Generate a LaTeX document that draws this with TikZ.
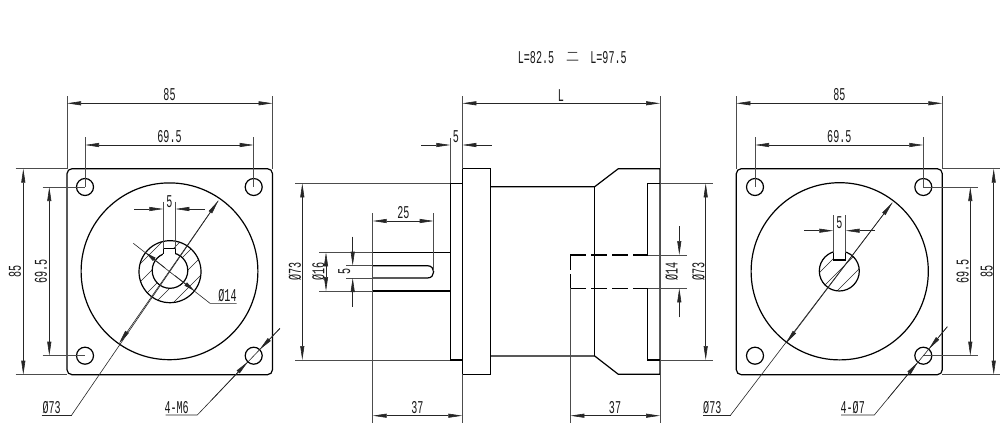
\documentclass[tikz,border=0pt]{standalone}
\usepackage{fontspec}
\usetikzlibrary{arrows.meta}
\newfontfamily\cadfont[FakeStretch=0.56]{Liberation Mono}
\newfontfamily\cjkfont{Noto Sans CJK SC}
\tikzset{
  >={Triangle[length=14pt,width=4pt]},
  outline/.style={line width=1.2pt,black},
  dim/.style={line width=0.6pt,black!85},
  ext/.style={line width=0.6pt,black!70},
  hatch/.style={line width=0.5pt,black!85},
  lbl/.style={inner sep=0pt,font=\cadfont\fontsize{18}{18}\selectfont,black!90},
  vlbl/.style={lbl,rotate=90},
  dashline/.style={outline,dash pattern=on 16pt off 5pt}
}
\begin{document}
\begin{tikzpicture}[x=1pt,y=-1pt]
\useasboundingbox (0,0) rectangle (1000,428);
\fill[white] (0,0) rectangle (1000,428);

% ---------- top note
\node[lbl] (noteA) at (536,57.5) {L=82.5};
\node[inner sep=0pt,font=\cjkfont\fontsize{13}{13}\selectfont,black!70] (noteB) at (572.5,57) {二};
\node[lbl] (noteC) at (608.5,57.5) {L=97.5};

% ---------- left view
\draw[outline,rounded corners=5pt] (67,168.7) rectangle (272.5,374.7);
\foreach \hx/\hy in {85/187,253.7/187,85/355.7,253.7/355.7}
  \draw[outline] (\hx,\hy) circle[radius=8.5];
\draw[outline] (169.5,271.3) circle[radius=88.4];
\begin{scope}
  \clip (170,271.7) circle[radius=31];
  \foreach \k in {-5,...,5}
    \draw[hatch] (100+\k*18,340) -- (240+\k*18,200);
\end{scope}
\fill[white] (170,270.5) circle[radius=17.8];
\draw[outline] (170,271.7) circle[radius=31];
\draw[outline] (170,270.5) circle[radius=17.8];
\fill[white] (163.3,248.3) rectangle (175.3,258);
\draw[outline] (163.3,254) -- (163.3,248.3) -- (175.3,248.3) -- (175.3,253.5);

\draw[ext] (67,96) -- (67,168.7);
\draw[ext] (272.5,96) -- (272.5,168.7);
\draw[dim,<->] (67,103.3) -- (272.5,103.3);
\node[lbl] (l85t) at (169.5,95) {85};
\draw[ext] (85,137) -- (85,187);
\draw[ext] (253.7,137) -- (253.7,187);
\draw[dim,<->] (85,145) -- (253.7,145);
\node[lbl] (l695t) at (169.5,137) {69.5};
\draw[ext] (15.7,168.7) -- (67,168.7);
\draw[ext] (15.7,374.7) -- (67,374.7);
\draw[dim,<->] (23.3,168.7) -- (23.3,374.7);
\node[vlbl] (l85l) at (15,271.7) {85};
\draw[ext] (42.7,187) -- (85,187);
\draw[ext] (42.7,355.7) -- (85,355.7);
\draw[dim,<->] (49.3,187) -- (49.3,355.7);
\node[vlbl] (l695l) at (41,271.7) {69.5};
\draw[ext] (163.3,201.7) -- (163.3,249);
\draw[ext] (175.3,201.7) -- (175.3,249);
\draw[dim,->] (134.3,209) -- (163.3,209);
\draw[dim,->] (205,209) -- (175.3,209);
\node[lbl] (l5) at (169.5,201.5) {5};
% O73 leader
\draw[dim,->] (71.7,415) -- (218.3,200.7);
\draw[dim,->] (218.3,200.7) -- (119,343.5);
\draw[dim] (41.7,415) -- (71.7,415);
\node[lbl] (lO73) at (51.7,407.5) {Ø73};
% O14 leader
\draw[dim] (133.3,243.3) -- (210,303.3) -- (236.7,303.3);
\draw[dim,{Triangle[length=11pt,width=4pt]}-] (145.6,252.6) -- (165,267.8);
\draw[dim,{Triangle[length=11pt,width=4pt]}-] (194.4,290.8) -- (175,275.6);
\node[lbl] (lO14) at (227.5,295.5) {Ø14};
% 4-M6 leader
\draw[dim] (280,328.3) -- (197.3,415) -- (165.7,415);
\draw[dim,->] (212,399.6) -- (247.8,361.8);
\draw[dim,->] (280,328.3) -- (259.6,349.6);
\node[lbl] (lM6) at (176.7,407.5) {4-M6};

% ---------- middle view
\draw[outline] (372.7,252.3) rectangle (450.3,291);
\draw[outline] (372.7,265.7) -- (427.5,265.7) .. controls (435.7,265.7) and (435.7,278) .. (427.5,278) -- (372.7,278);
\draw[outline] (450.3,183.3) rectangle (462.3,360);
\draw[outline] (462.3,168.7) rectangle (490.3,374.3);
\draw[outline] (490.3,186.7) -- (594.7,186.7) -- (618.3,168.7) -- (660,168.7) -- (660,374.3)
  -- (618.3,374.3) -- (594.7,356) -- (490.3,356);
\draw[outline] (594.7,186.7) -- (594.7,356);
\draw[outline] (660,183.3) -- (647.7,183.3) -- (647.7,255);
\draw[outline] (660,360) -- (647.7,360) -- (647.7,288.3);
\draw[dashline] (570.3,255) -- (647.7,255);
\draw[dashline] (570.3,288.3) -- (647.7,288.3);
\draw[outline] (570.3,255) -- (570.3,270);
\draw[outline] (570.3,274) -- (570.3,288.3);

\draw[ext] (462.3,96) -- (462.3,168.7);
\draw[ext] (660,96) -- (660,423);
\draw[dim,<->] (462.3,103.3) -- (660,103.3);
\node[lbl] (mL) at (561,96) {L};
\draw[ext] (450.3,138) -- (450.3,183.3);
\draw[dim,->] (421,145) -- (450.3,145);
\draw[dim,->] (491.7,145) -- (462.3,145);
\node[lbl] (m5) at (456,136.5) {5};
\draw[ext] (295,183.3) -- (450.3,183.3);
\draw[ext] (295,360) -- (450.3,360);
\draw[dim,<->] (302.3,183.3) -- (302.3,360);
\node[vlbl] (mO73l) at (295,271.7) {Ø73};
\draw[ext] (372.7,213) -- (372.7,423);
\draw[ext] (433.7,213) -- (433.7,271);
\draw[dim,<->] (372.7,221) -- (433.7,221);
\node[lbl] (m25) at (403.3,212.5) {25};
\draw[ext] (319.3,252.3) -- (372.7,252.3);
\draw[ext] (319.3,291) -- (372.7,291);
\draw[dim,<->] (326,252.3) -- (326,291);
\node[vlbl] (mO16) at (318.3,271.7) {Ø16};
\draw[ext] (346,265.7) -- (372.7,265.7);
\draw[ext] (346,278) -- (372.7,278);
\draw[dim,->] (352.7,236.7) -- (352.7,265.7);
\draw[dim,->] (352.7,306.7) -- (352.7,278);
\node[vlbl] (m5v) at (344.3,271.7) {5};
\draw[ext] (462.3,374.3) -- (462.3,423);
\draw[dim,<->] (372.7,415.7) -- (462.3,415.7);
\node[lbl] (m37l) at (417.3,407.5) {37};
\draw[ext] (570.3,288.3) -- (570.3,423);
\draw[dim,<->] (570.3,415.7) -- (660,415.7);
\node[lbl] (m37r) at (615,407.5) {37};
\draw[ext] (660,183.3) -- (713,183.3);
\draw[ext] (660,360) -- (713,360);
\draw[dim,<->] (705.7,183.3) -- (705.7,360);
\node[vlbl] (mO73r) at (698.3,271.7) {Ø73};
\draw[ext] (647.7,255) -- (686.7,255);
\draw[ext] (647.7,288.3) -- (686.7,288.3);
\draw[dim,->] (679.3,226) -- (679.3,255);
\draw[dim,->] (679.3,317.3) -- (679.3,288.3);
\node[vlbl] (mO14) at (671.7,271.7) {Ø14};

% ---------- right view
\draw[outline,rounded corners=5pt] (736.3,168.7) rectangle (942.3,374.7);
\foreach \hx/\hy in {755/187,923.3/187,755/355.7,923.3/355.7}
  \draw[outline] (\hx,\hy) circle[radius=8.5];
\draw[outline] (839.7,271.3) circle[radius=88.6];
\begin{scope}
  \clip (839.3,271) circle[radius=20];
  \foreach \k in {-3,...,3}
    \draw[hatch] (770+\k*18,340) -- (910+\k*18,200);
\end{scope}
\draw[outline] (839.3,271) circle[radius=20];
\fill[white] (833.3,245) rectangle (845.7,259.5);
\draw[outline] (833.3,252.5) -- (833.3,260) -- (845.7,260) -- (845.7,252.5);

\draw[ext] (736.3,96) -- (736.3,168.7);
\draw[ext] (942.3,96) -- (942.3,168.7);
\draw[dim,<->] (736.3,103.3) -- (942.3,103.3);
\node[lbl] (r85t) at (839.3,95) {85};
\draw[ext] (755,137) -- (755,187);
\draw[ext] (923.3,137) -- (923.3,187);
\draw[dim,<->] (755,145) -- (923.3,145);
\node[lbl] (r695t) at (839.3,137) {69.5};
\draw[ext] (942.3,168.7) -- (1000,168.7);
\draw[ext] (942.3,374.7) -- (1000,374.7);
\draw[dim,<->] (993.7,168.7) -- (993.7,374.7);
\node[vlbl] (r85r) at (986.7,271.7) {85};
\draw[ext] (923.3,187) -- (977.7,187);
\draw[ext] (923.3,355.7) -- (977.7,355.7);
\draw[dim,<->] (970.3,187) -- (970.3,355.7);
\node[vlbl] (r695r) at (962.7,271.7) {69.5};
\draw[ext] (833.3,215) -- (833.3,253);
\draw[ext] (845.7,215) -- (845.7,253);
\draw[dim,->] (804,230.7) -- (833.3,230.7);
\draw[dim,->] (875,230.7) -- (845.7,230.7);
\node[lbl] (r5) at (839.3,222.5) {5};
% O73 leader
\draw[dim,->] (730.7,415) -- (892.3,202.7);
\draw[dim,->] (892.3,202.7) -- (786,343.3);
\draw[dim] (703.3,415) -- (730.7,415);
\node[lbl] (rO73) at (712.3,407.5) {Ø73};
% 4-O7 leader
\draw[dim] (947.3,326.7) -- (874.3,415) -- (841,415);
\draw[dim,->] (888,398.4) -- (917.9,362.2);
\draw[dim,->] (947.3,326.7) -- (928.7,349.2);
\node[lbl] (rO7) at (852.7,407.5) {4-Ø7};
\end{tikzpicture}
\end{document}
